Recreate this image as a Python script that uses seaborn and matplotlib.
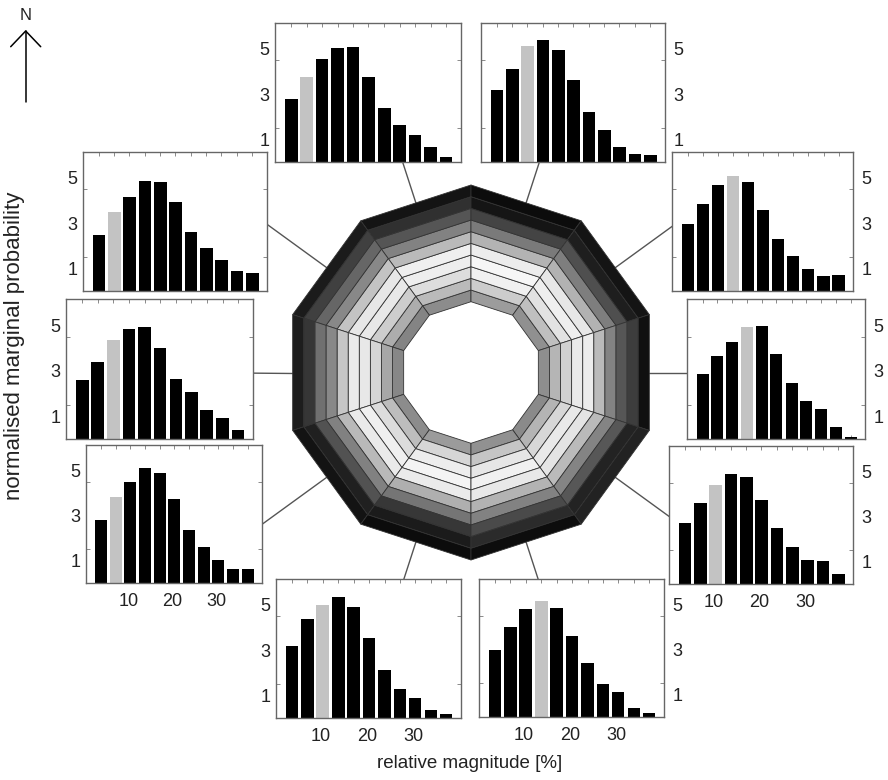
import numpy as np
import pandas as pd
import matplotlib
matplotlib.use("Agg")
import matplotlib.pyplot as plt
import seaborn as sns
from matplotlib.patches import Polygon

sns.set_theme(style="white")
plt.rcParams['font.family'] = ['Liberation Sans', 'DejaVu Sans']

# ---------------- data ----------------
bin_centres = [3.8, 7.1, 10.4, 13.8, 17.1, 20.4, 23.8, 27.1, 30.4, 33.8, 37.1]
x_tick_values = [10, 20, 30]
y_tick_values = [1, 3, 5]

# sector mid-angles (degrees, math convention) for the 10 directions
sector_angles = [108, 72, 144, 36, 180, 0, 216, 324, 252, 288]

prob_nnw = [2.80, 3.76, 4.55, 5.05, 5.07, 3.76, 2.41, 1.63, 1.19, 0.65, 0.24]
prob_nne = [3.20, 4.13, 5.14, 5.41, 4.96, 3.61, 2.22, 1.41, 0.68, 0.37, 0.31]
prob_nw = [2.49, 3.50, 4.15, 4.86, 4.83, 3.94, 2.62, 1.90, 1.36, 0.89, 0.79]
prob_ne = [2.96, 3.85, 4.70, 5.07, 4.84, 3.59, 2.28, 1.54, 0.99, 0.65, 0.71]
prob_w = [2.60, 3.40, 4.35, 4.85, 4.90, 4.00, 2.65, 2.05, 1.26, 0.93, 0.39]
prob_e = [2.85, 3.65, 4.25, 4.92, 4.98, 3.75, 2.45, 1.65, 1.33, 0.52, 0.09]
prob_sw = [2.79, 3.82, 4.52, 5.14, 4.92, 3.73, 2.34, 1.59, 1.01, 0.62, 0.64]
prob_se = [2.71, 3.63, 4.39, 4.89, 4.76, 3.75, 2.49, 1.67, 1.05, 1.04, 0.44]
prob_ssw = [3.17, 4.37, 5.01, 5.36, 4.93, 3.54, 2.13, 1.27, 0.89, 0.36, 0.19]
prob_sse = [2.98, 3.99, 4.80, 5.17, 4.87, 3.61, 2.40, 1.47, 1.13, 0.40, 0.19]
highlight_bin = [1, 2, 1, 3, 2, 3, 1, 2, 2, 3]

probs = [prob_nnw, prob_nne, prob_nw, prob_ne, prob_w, prob_e,
         prob_sw, prob_se, prob_ssw, prob_sse]

# grey colormap (probability -> grey level) used for the decagon rings
cmap_p = [0.0, 0.4, 1.0, 1.5, 2.3, 3.0, 3.7, 4.3, 5.0, 5.5]
cmap_g = [0.03, 0.05, 0.12, 0.30, 0.50, 0.57, 0.72, 0.83, 0.93, 0.97]

# ---------------- layout (pixels) ----------------
W, H = 888, 780
boxes = [(275, 23, 461, 162), (481, 23, 665, 162),
         (83, 152, 267, 291), (672, 152, 853, 291),
         (66, 299, 253, 439), (687, 299, 865, 439),
         (86, 445, 262, 583), (669, 446, 853, 584),
         (276, 579, 461, 718), (479, 579, 664, 717)]
label_side = ['left', 'right', 'left', 'right', 'left', 'right',
              'left', 'right', 'left', 'right']
show_x = [False, False, False, False, False, False, True, True, True, True]

cx, cy = 471, 372.5
r_inner, r_step, n_rings = 70.8, 11.67, 10

fig = plt.figure(figsize=(W / 100, H / 100), dpi=100)
fig.patch.set_facecolor('white')

bg = fig.add_axes([0, 0, 1, 1])
bg.set_xlim(0, W)
bg.set_ylim(H, 0)
bg.axis('off')


def pt(ang, r):
    a = np.deg2rad(ang)
    return (cx + r * np.cos(a), cy - r * np.sin(a))


# decagon rings coloured by probability
for ang, p in zip(sector_angles, probs):
    a0, a1 = ang - 18, ang + 18
    for k in range(n_rings):
        r0 = r_inner + k * r_step
        r1 = r0 + r_step
        g = float(np.interp(p[k], cmap_p, cmap_g))
        poly = Polygon([pt(a0, r0), pt(a1, r0), pt(a1, r1), pt(a0, r1)],
                       closed=True, facecolor=(g, g, g), edgecolor='#333333',
                       linewidth=0.6, zorder=2)
        bg.add_patch(poly)
    # connector line from edge midpoint outwards
    r_edge = (r_inner + n_rings * r_step) * np.cos(np.deg2rad(18))
    p0 = pt(ang, r_edge)
    p1 = pt(ang, 290)
    bg.plot([p0[0], p1[0]], [p0[1], p1[1]], color='#555555', lw=1.0, zorder=1)

# north arrow
bg.plot([25.7, 25.7], [102, 31], color='black', lw=1.1)
bg.plot([10.7, 25.7, 40.7], [46.7, 31, 46.7], color='black', lw=1.1)
bg.text(25.7, 15, 'N', ha='center', va='center', fontsize=12, color='#222222')

# axis titles
bg.text(470, 763, 'relative magnitude [%]', ha='center', va='center',
        fontsize=13.5, color='#222222')
bg.text(15, 346, 'normalised marginal probability', ha='center', va='center',
        rotation=90, fontsize=16, color='#222222')

# ---------------- histograms ----------------
for i, (p, box) in enumerate(zip(probs, boxes)):
    x0, y0, x1, y1 = box
    ax = fig.add_axes([x0 / W, 1 - y1 / H, (x1 - x0) / W, (y1 - y0) / H])
    ax.set_facecolor('white')
    kind = ['hi' if j == highlight_bin[i] else 'lo' for j in range(len(p))]
    df = pd.DataFrame({'x': bin_centres, 'p': p, 'kind': kind})
    sns.barplot(data=df, x='x', y='p', hue='kind',
                palette={'hi': '#c3c3c3', 'lo': 'black'},
                native_scale=True, dodge=False, width=0.82, errorbar=None,
                saturation=1, legend=False, linewidth=0, ax=ax)
    ax.set_xlim(0.3, 40.3)
    ax.set_ylim(0, 6.15)
    ax.set_xlabel('')
    ax.set_ylabel('')
    for s in ax.spines.values():
        s.set_color('#666666')
        s.set_linewidth(1.0)
        s.set_visible(True)
    # y ticks
    ax.set_yticks(y_tick_values)
    ax.set_yticklabels([str(v) for v in y_tick_values])
    ax.set_yticks([1.5, 3, 4.5], minor=True)
    if label_side[i] == 'left':
        ax.tick_params(axis='y', which='major', left=True, right=False,
                       labelleft=True, labelright=False, length=0, pad=4,
                       labelsize=13, labelcolor='#222222')
    else:
        ax.tick_params(axis='y', which='major', left=False, right=True,
                       labelleft=False, labelright=True, length=0, pad=6,
                       labelsize=13, labelcolor='#222222')
    ax.tick_params(axis='y', which='minor', left=True, right=True,
                   direction='in', length=3, width=0.6, color='#777777')
    # x ticks
    ax.set_xticks(bin_centres, minor=True)
    if show_x[i]:
        ax.set_xticks(x_tick_values)
        ax.set_xticklabels([str(v) for v in x_tick_values])
    else:
        ax.set_xticks([])
    ax.tick_params(axis='x', which='major', length=0, pad=7, labelsize=13,
                   labelcolor='#222222')
    ax.tick_params(axis='x', which='minor', bottom=True, top=True,
                   direction='in', length=3, width=0.6, color='#777777')

fig.savefig('out.png', dpi=100, facecolor='white')
